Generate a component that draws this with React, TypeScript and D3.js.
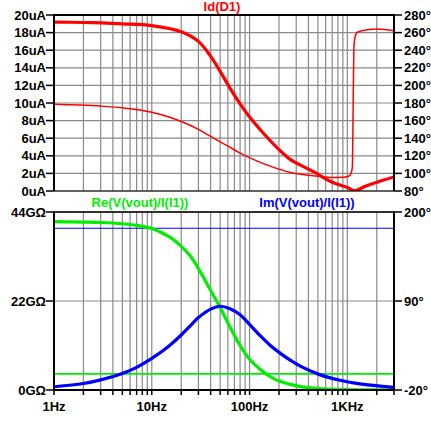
import React, { useEffect, useRef } from "react";
import * as d3 from "d3";

// top pane: Id(D1) magnitude (uA) and phase (deg)
const idFreq = [1, 2, 3, 5, 10, 20, 30, 40, 50, 63, 80, 100, 130, 160, 200, 260, 350, 450, 700, 1000, 1190, 1500, 2000, 3000];
const idMag = [19.2, 19.15, 19.1, 19.0, 18.8, 18.1, 17.0, 15.3, 13.6, 11.7, 9.9, 8.4, 6.9, 5.8, 4.7, 3.6, 2.8, 2.2, 1.0, 0.4, 0.02, 0.5, 1.0, 1.6];

const idPhaseFreq = [1, 3, 5, 10, 15, 20, 30, 40, 60, 80, 120, 160, 260, 450, 700, 900, 1040, 1090, 1125, 1146, 1165, 1193, 1250, 1400, 2000, 3000];
const idPhase = [178.5, 176.5, 174.5, 169.5, 164, 159, 150, 142, 131, 123, 114, 108.5, 101, 97.4, 95.4, 95.5, 97, 100, 107, 175, 240, 254, 260, 262, 264, 262];

// bottom pane: Re / Im of V(vout)/I(I1) (GOhm) and their phases (deg)
const zFreq = [1, 2, 3, 5, 7, 10, 15, 20, 25, 30, 40, 50, 63, 80, 100, 130, 160, 200, 260, 330, 520, 840, 1340, 3000];
const reMag = [41.6, 41.5, 41.4, 41.1, 40.7, 39.9, 37.9, 35.5, 33.0, 30.0, 24.6, 20.4, 15.6, 11.0, 7.6, 5.0, 3.4, 2.2, 1.4, 0.85, 0.35, 0.14, 0.06, 0.02];
const imMag = [0.8, 1.6, 2.5, 4.1, 5.6, 7.8, 10.9, 13.6, 16.0, 17.9, 20.0, 20.7, 20.1, 18.6, 16.2, 13.3, 11.2, 9.3, 7.4, 5.9, 3.8, 2.4, 1.5, 0.65];

const phaseFreq = [1, 3000];
const rePhase = [0, 0];
const imPhase = [180, 180];

// axes
const xLabelFreqs = [1, 10, 100, 1000];
const xLabelText = ["1Hz", "10Hz", "100Hz", "1KHz"];
const topLeftTicks = [0, 2, 4, 6, 8, 10, 12, 14, 16, 18, 20];
const topRightTicks = [80, 100, 120, 140, 160, 180, 200, 220, 240, 260, 280];
const botLeftTicks = [0, 22, 44];
const botRightTicks = [-20, 90, 200];

const RED = "#ff0000";
const GREEN = "#00ee00";
const BLUE = "#0000ff";
const FONT = "'Liberation Sans', Arial, sans-serif";

export default function App() {
  const ref = useRef<SVGSVGElement>(null);

  useEffect(() => {
    const svg = d3.select(ref.current);
    svg.selectAll("*").remove();

    const left = 54;
    const right = 394;
    const top1 = 15, bot1 = 191;
    const top2 = 212, bot2 = 390;

    const x = d3.scaleLog().domain([1, 3000]).range([left, right]);
    const yI = d3.scaleLinear().domain([0, 20]).range([bot1, top1]);
    const yP1 = d3.scaleLinear().domain([80, 280]).range([bot1, top1]);
    const yZ = d3.scaleLinear().domain([0, 44]).range([bot2, top2]);
    const yP2 = d3.scaleLinear().domain([-20, 200]).range([bot2, top2]);

    const gridFreqs = x.ticks();

    const defs = svg.append("defs");
    defs.append("clipPath").attr("id", "clip1")
      .append("rect").attr("x", left).attr("y", top1).attr("width", right - left).attr("height", bot1 - top1);
    defs.append("clipPath").attr("id", "clip2")
      .append("rect").attr("x", left).attr("y", top2).attr("width", right - left).attr("height", bot2 - top2);

    // grid
    const grid = svg.append("g").attr("stroke", "#8a8a8a").attr("stroke-width", 1.2);
    [[top1, bot1], [top2, bot2]].forEach(([t, b]) => {
      grid.selectAll(null)
        .data(gridFreqs)
        .join("line")
        .attr("x1", (d) => x(d)).attr("x2", (d) => x(d))
        .attr("y1", t).attr("y2", b);
    });
    grid.selectAll(null)
      .data(topLeftTicks)
      .join("line")
      .attr("x1", left).attr("x2", right)
      .attr("y1", (d) => yI(d)).attr("y2", (d) => yI(d));
    grid.selectAll(null)
      .data(botLeftTicks)
      .join("line")
      .attr("x1", left).attr("x2", right)
      .attr("y1", (d) => yZ(d)).attr("y2", (d) => yZ(d));

    // curves
    const drawCurve = (
      clip: string, fs: number[], vs: number[], y: d3.ScaleLinear<number, number>,
      color: string, w: number, curve: d3.CurveFactory = d3.curveCatmullRom.alpha(0.5)
    ) => {
      const line = d3.line<number>()
        .x((_, i) => x(fs[i]))
        .y((d) => y(d))
        .curve(curve);
      svg.append("path")
        .attr("clip-path", `url(#${clip})`)
        .attr("d", line(vs))
        .attr("fill", "none")
        .attr("stroke", color)
        .attr("stroke-width", w)
        .attr("stroke-linejoin", "round");
    };

    drawCurve("clip1", idPhaseFreq, idPhase, yP1, RED, 1.5, d3.curveMonotoneX);
    drawCurve("clip1", idFreq, idMag, yI, RED, 3.2);

    drawCurve("clip2", phaseFreq, imPhase, yP2, BLUE, 1.1);
    drawCurve("clip2", phaseFreq, rePhase, yP2, GREEN, 1.8);
    drawCurve("clip2", zFreq, reMag, yZ, GREEN, 3.2);
    drawCurve("clip2", zFreq, imMag, yZ, BLUE, 3.2);

    // frames and axes
    const ax = svg.append("g").attr("stroke", "#000");
    ax.append("line").attr("x1", left).attr("x2", right).attr("y1", top1).attr("y2", top1).attr("stroke-width", 2);
    ax.append("line").attr("x1", left).attr("x2", right).attr("y1", bot1).attr("y2", bot1).attr("stroke-width", 1);
    ax.append("line").attr("x1", left).attr("x2", right).attr("y1", top2).attr("y2", top2).attr("stroke-width", 1.5);
    ax.append("line").attr("x1", left).attr("x2", right).attr("y1", bot2).attr("y2", bot2).attr("stroke-width", 2);
    [[top1, bot1], [top2, bot2]].forEach(([t, b]) => {
      ax.append("line").attr("x1", left).attr("x2", left).attr("y1", t - 1).attr("y2", b).attr("stroke-width", 2);
      ax.append("line").attr("x1", right).attr("x2", right).attr("y1", t - 1).attr("y2", b).attr("stroke-width", 2);
    });

    // axis ticks
    ax.selectAll(null).data(topLeftTicks).join("line")
      .attr("x1", left - 8).attr("x2", left).attr("y1", (d) => yI(d)).attr("y2", (d) => yI(d)).attr("stroke-width", 1.5);
    ax.selectAll(null).data(topRightTicks).join("line")
      .attr("x1", right).attr("x2", right + 8).attr("y1", (d) => yP1(d)).attr("y2", (d) => yP1(d)).attr("stroke-width", 1.5);
    ax.selectAll(null).data(botLeftTicks).join("line")
      .attr("x1", left - 8).attr("x2", left).attr("y1", (d) => yZ(d)).attr("y2", (d) => yZ(d)).attr("stroke-width", 1.5);
    ax.selectAll(null).data(botRightTicks).join("line")
      .attr("x1", right).attr("x2", right + 8).attr("y1", (d) => yP2(d)).attr("y2", (d) => yP2(d)).attr("stroke-width", 1.5);
    ax.selectAll(null).data(gridFreqs).join("line")
      .attr("x1", (d) => x(d)).attr("x2", (d) => x(d)).attr("y1", bot2).attr("y2", bot2 + 5).attr("stroke-width", 1.5);

    // labels
    const txt = svg.append("g")
      .attr("font-family", FONT)
      .attr("font-weight", "bold")
      .attr("font-size", 13);

    txt.selectAll(null).data(topLeftTicks).join("text")
      .attr("x", left - 8).attr("y", (d) => yI(d)).attr("dy", "0.36em")
      .attr("text-anchor", "end").text((d) => `${d}uA`);
    txt.selectAll(null).data(topRightTicks).join("text")
      .attr("x", right + 10).attr("y", (d) => yP1(d)).attr("dy", "0.36em")
      .text((d) => `${d}°`);
    txt.selectAll(null).data(botLeftTicks).join("text")
      .attr("x", left - 8).attr("y", (d) => yZ(d)).attr("dy", "0.36em")
      .attr("text-anchor", "end").text((d) => `${d}GΩ`);
    txt.selectAll(null).data(botRightTicks).join("text")
      .attr("x", right + 10).attr("y", (d) => yP2(d)).attr("dy", "0.36em")
      .text((d) => `${d}°`);
    txt.selectAll(null).data(xLabelFreqs).join("text")
      .attr("x", (d) => x(d)).attr("y", 411)
      .attr("text-anchor", "middle").text((_, i) => xLabelText[i]);

    txt.append("text").attr("x", 222).attr("y", 11).attr("text-anchor", "middle")
      .attr("fill", RED).text("Id(D1)");
    txt.append("text").attr("x", 140).attr("y", 207).attr("text-anchor", "middle")
      .attr("fill", GREEN).text("Re(V(vout)/I(I1))");
    txt.append("text").attr("x", 307).attr("y", 207).attr("text-anchor", "middle")
      .attr("fill", BLUE).text("Im(V(vout)/I(I1))");
  }, []);

  return (
    <svg
      ref={ref}
      width={431}
      height={421}
      style={{ position: "absolute", left: 0, top: 0, background: "#fff" }}
    />
  );
}
